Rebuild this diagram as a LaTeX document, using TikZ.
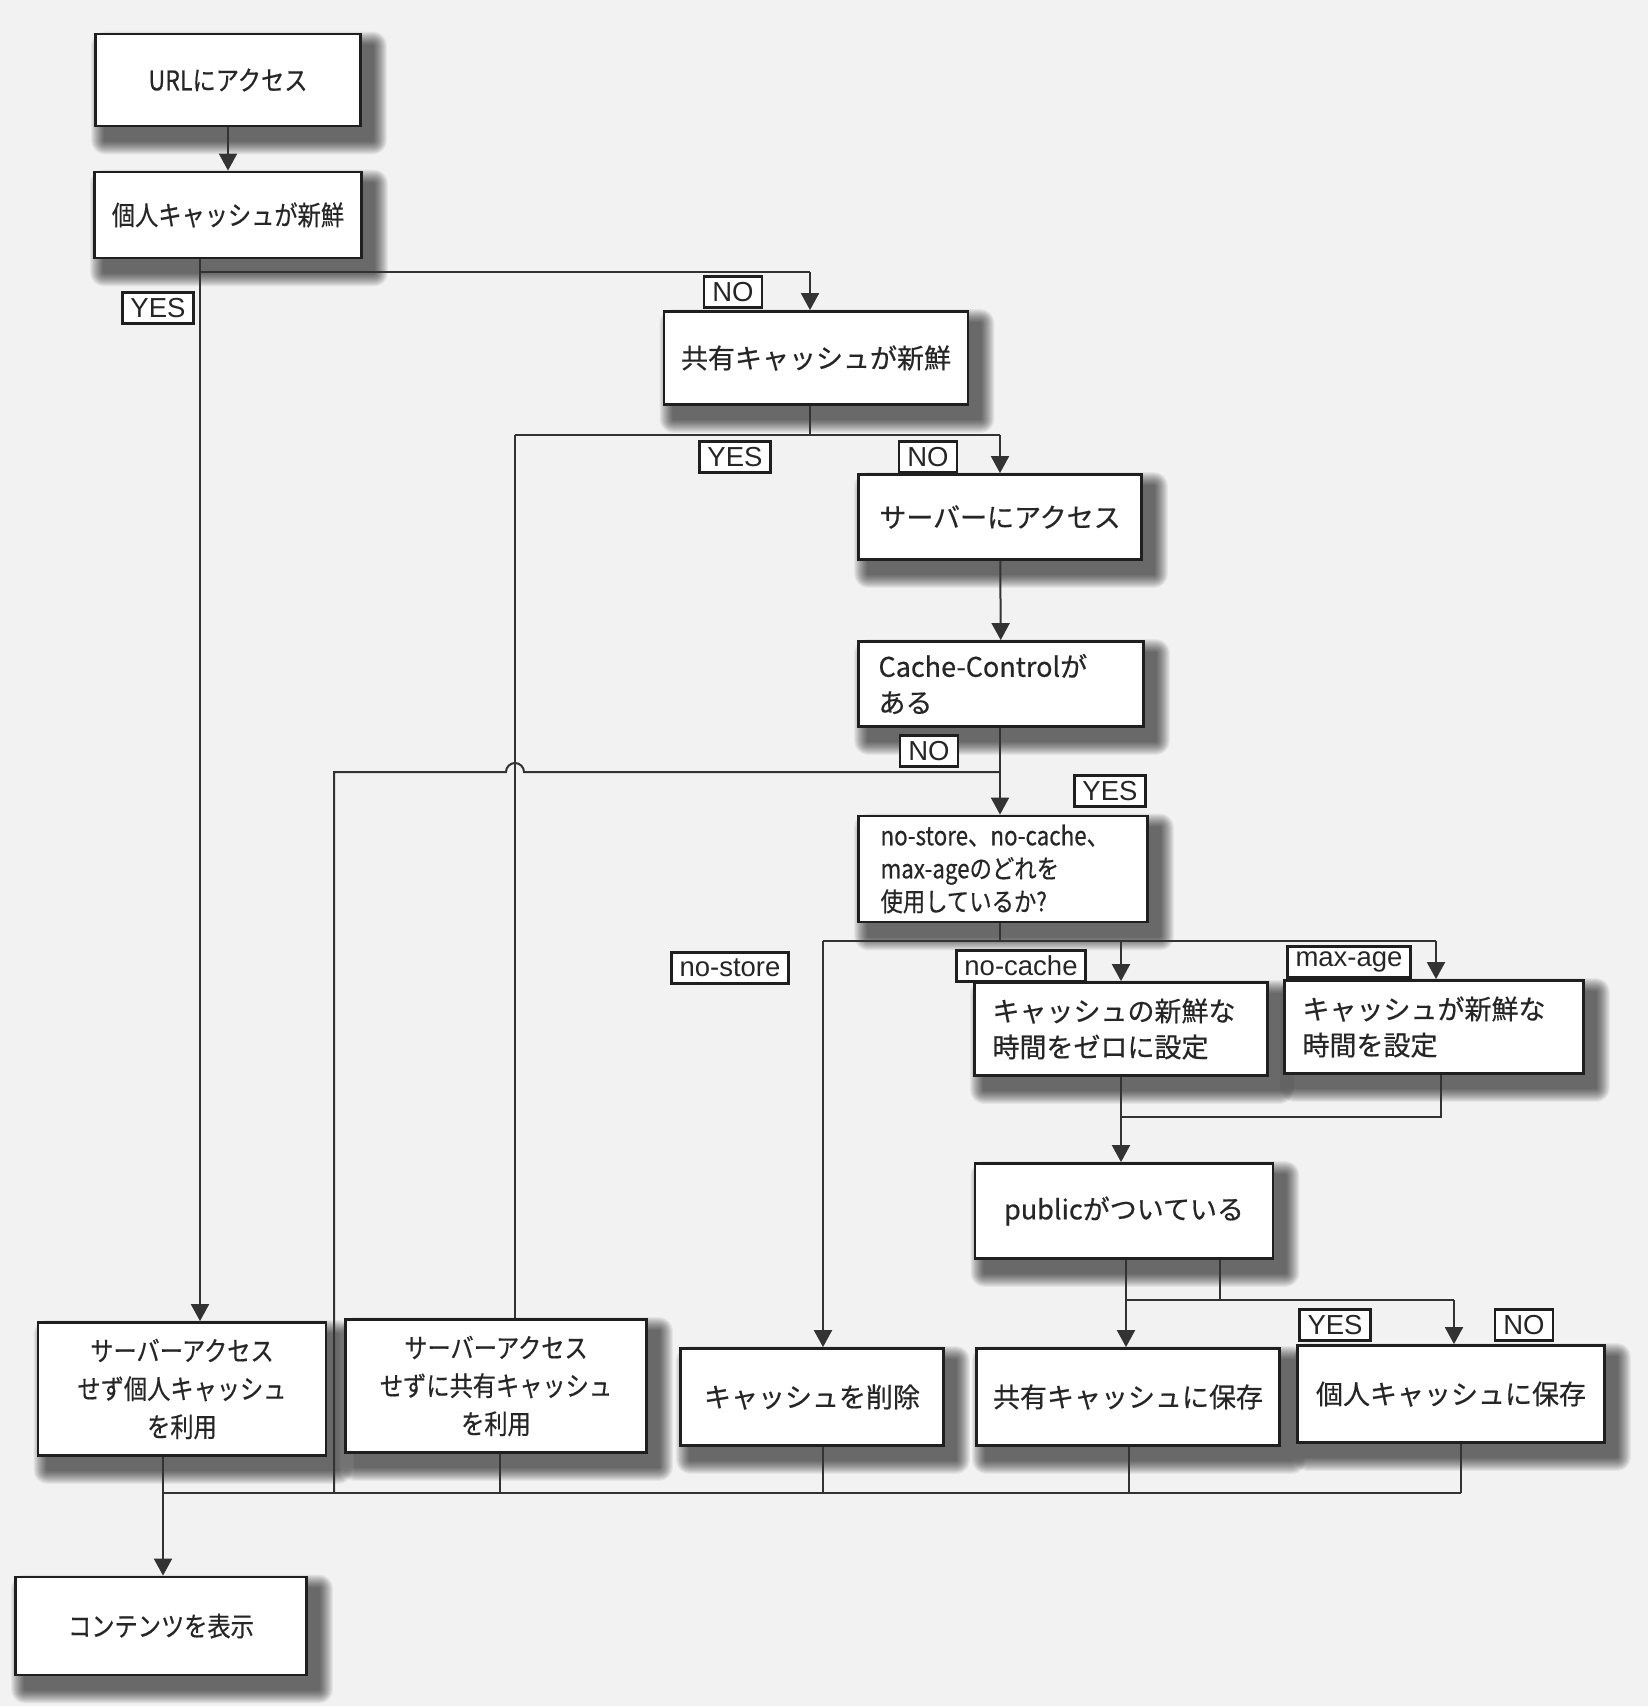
\documentclass[tikz,border=0pt]{standalone}
\usepackage{fontspec}
\setmainfont{Noto Sans CJK JP}
\newfontfamily\jpmain[FakeBold=0.5]{Noto Sans CJK JP}
\newfontfamily\jpnarrow[FakeStretch=0.86,FakeBold=0.5]{Noto Sans CJK JP}
\newfontfamily\tagfont{Liberation Sans}
\usetikzlibrary{arrows.meta}
\pgfdeclarelayer{paper}
\pgfsetlayers{paper,main}

\begin{document}
\begin{tikzpicture}[x=1pt,y=-1pt,
  box/.style 2 args={draw=black!88, line width=2.8pt, fill=white, inner sep=0pt,
    minimum width=#1, minimum height=#2, align=center, text=black!85,
    font=\jpmain\fontsize{27}{36}\selectfont},
  narrow/.style={font=\jpnarrow\fontsize{27}{38}\selectfont},
  tag/.style={draw=black!88, line width=2.2pt, fill=white, inner xsep=8pt, inner ysep=0pt,
    minimum height=31pt, text=black!85, font=\tagfont\fontsize{27.5}{27.5}\selectfont},
  wire/.style={draw=black!80, line width=2pt},
  arr/.style={wire, -{Triangle[length=17pt,width=18pt]}},
  softshadow/.style={fill=black, opacity=0.055},
]
\useasboundingbox (0,0) rectangle (1648,1706);

% boxes
\node[box={265pt}{92pt}, narrow] (url) at (228,80) {URLにアクセス};
\node[box={267pt}{86pt}, narrow] (priv) at (228,215) {個人キャッシュが新鮮};
\node[box={304pt}{93pt}] (shared) at (816,358) {共有キャッシュが新鮮};
\node[box={283pt}{85pt}] (server) at (1000,517) {サーバーにアクセス};
\node[box={285pt}{85pt}, text width=245pt, align=left] (cc) at (1001,684) {Cache-Controlが\\ある};
\node[box={289pt}{106pt}, text width=245pt, align=left, font=\jpnarrow\fontsize{26}{33}\selectfont] (which) at (1003,869)
  {no-store、no-cache、\\max-ageのどれを\\使用しているか?};
\node[box={293pt}{93pt}, text width=257pt, align=left] (zero) at (1121,1029) {キャッシュの新鮮な\\時間をゼロに設定};
\node[box={299pt}{93pt}, text width=263pt, align=left] (setf) at (1434,1027) {キャッシュが新鮮な\\時間を設定};
\node[box={298pt}{95pt}] (pub) at (1124,1211) {publicがついている};
\node[box={288pt}{133pt}, narrow] (pcache) at (182,1389) {サーバーアクセス\\せず個人キャッシュ\\を利用};
\node[box={301pt}{133pt}, narrow] (scache) at (496,1386) {サーバーアクセス\\せずに共有キャッシュ\\を利用};
\node[box={263pt}{97pt}] (del) at (812,1397) {キャッシュを削除};
\node[box={303pt}{97pt}] (ssave) at (1128,1397) {共有キャッシュに保存};
\node[box={307pt}{97pt}] (psave) at (1451,1394) {個人キャッシュに保存};
\node[box={291pt}{98pt}, narrow] (show) at (161,1626) {コンテンツを表示};

% paper and soft drop shadows behind the boxes
\begin{pgfonlayer}{paper}
  \fill[black!5] (0,0) rectangle (1648,1706);
  \foreach \n in {url,priv,shared,server,cc,which,zero,setf,pub,pcache,scache,del,ssave,psave,show}{
    \foreach \r in {1,...,14}{
      \fill[softshadow, rounded corners=\r pt]
        ([shift={(11-\r,13-\r)}]\n.north west) rectangle ([shift={(11+\r,13+\r)}]\n.south east);
    }
  }
\end{pgfonlayer}

% junctions
\coordinate (jA) at (200,272);
\coordinate (jAr) at (810,272);
\coordinate (jB) at (810,435);
\coordinate (jBl) at (515,435);
\coordinate (jBr) at (1000,435);
\coordinate (jC) at (1000,772);
\coordinate (hopR) at (524,772);
\coordinate (jCl) at (334,772);
\coordinate (jD) at (1000,941);
\coordinate (jDl) at (823,941);
\coordinate (jDm) at (1121,941);
\coordinate (jDr) at (1436,941);
\coordinate (jE) at (1121,1117);
\coordinate (jEr) at (1441,1117);
\coordinate (jFl) at (1126,1300);
\coordinate (jFm) at (1220,1300);
\coordinate (jFr) at (1454,1300);
\coordinate (bL) at (163,1493);
\coordinate (bCc) at (334,1493);
\coordinate (bS) at (500,1493);
\coordinate (bD) at (823,1493);
\coordinate (bSS) at (1129,1493);
\coordinate (bR) at (1461,1493);

% connectors
\draw[arr] (url) -- (priv);
\draw[wire] (priv.south -| jA) -- (jA);
\draw[arr] (jA) -- (pcache.north -| jA);
\draw[wire] (jA) -- (jAr);
\draw[arr] (jAr) -- (shared.north -| jAr);

\draw[wire] (shared.south -| jB) -- (jB);
\draw[wire] (jBl) -- (jBr);
\draw[arr] (jBr) -- (server.north -| jBr);
\draw[wire] (jBl) -- (scache.north -| jBl);

\draw[arr] (server) -- (cc);
\draw[wire] (cc.south -| jC) -- (jC);
\draw[arr] (jC) -- (which.north -| jC);
\draw[wire] (jC) -- (hopR) arc[start angle=0, end angle=180, radius=9pt] -- (jCl) -- (bCc);

\draw[wire] (which.south -| jD) -- (jD);
\draw[wire] (jDl) -- (jDr);
\draw[arr] (jDl) -- (del.north -| jDl);
\draw[arr] (jDm) -- (zero.north -| jDm);
\draw[arr] (jDr) -- (setf.north -| jDr);

\draw[wire] (zero.south -| jE) -- (jE);
\draw[wire] (setf.south -| jEr) -- (jEr) -- (jE);
\draw[arr] (jE) -- (pub.north -| jE);

\draw[arr] (pub.south -| jFl) -- (ssave.north -| jFl);
\draw[wire] (pub.south -| jFm) -- (jFm);
\draw[wire] (jFl) -- (jFr);
\draw[arr] (jFr) -- (psave.north -| jFr);

\draw[wire] (pcache.south -| bL) -- (bL);
\draw[wire] (scache.south -| bS) -- (bS);
\draw[wire] (del.south -| bD) -- (bD);
\draw[wire] (ssave.south -| bSS) -- (bSS);
\draw[wire] (psave.south -| bR) -- (bR);
\draw[wire] (bL) -- (bR);
\draw[arr] (bL) -- (show.north -| bL);

% branch labels
\node[tag] (t1) at (733,292) {NO};
\node[tag] (t2) at (158,308) {YES};
\node[tag] (t3) at (735,457) {YES};
\node[tag] (t4) at (928,457) {NO};
\node[tag] (t5) at (929,751) {NO};
\node[tag] (t6) at (1110,791) {YES};
\node[tag] (t7) at (730,968) {no-store};
\node[tag] (t8) at (1021,966) {no-cache};
\node[tag] (t9) at (1349,962) {max-age};
\node[tag] (t10) at (1335,1325) {YES};
\node[tag] (t11) at (1524,1325) {NO};
\end{tikzpicture}
\end{document}
